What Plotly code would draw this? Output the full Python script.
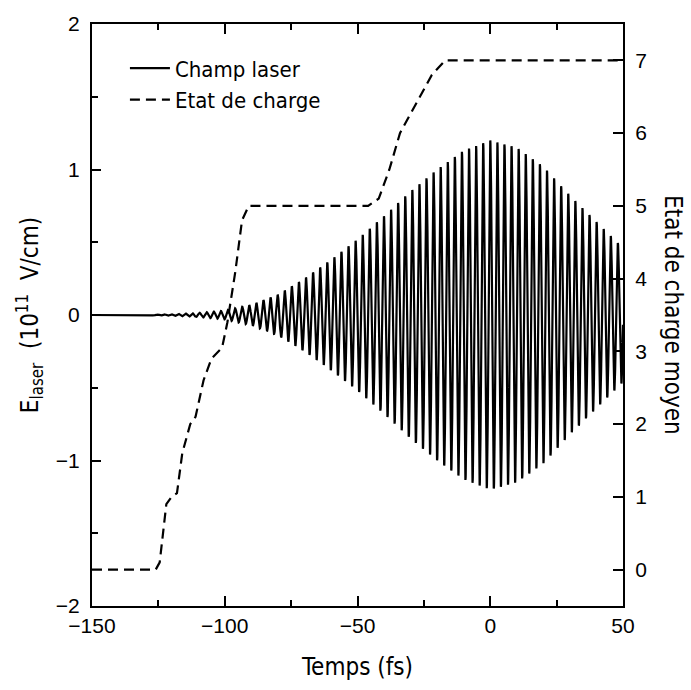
import numpy as np
import plotly.graph_objects as go

# ---- data ----
# Laser field: envelope amplitude (10^11 V/cm) at sample times (fs), carrier period (fs)
env_t = [-150, -130, -120, -110, -100, -90, -80, -70, -60, -50, -40, -30, -20, -10, 0, 10, 20, 30, 40, 50]
env_amp = [0.0, 0.002, 0.006, 0.014, 0.03, 0.07, 0.14, 0.25, 0.38, 0.52, 0.68, 0.85, 1.0, 1.13, 1.2, 1.15, 1.02, 0.82, 0.64, 0.46]
carrier_period = 2.67

# Mean charge state vs time
charge_t = [-150, -126, -124.5, -122, -120, -118, -116, -113, -111, -108, -105, -101, -99, -96, -93.5, -91, -46, -42, -38, -34, -28, -22, -17, 50]
charge_v = [0, 0, 0.1, 0.9, 1.0, 1.05, 1.6, 2.0, 2.1, 2.6, 2.9, 3.05, 3.4, 4.1, 4.8, 5.0, 5.0, 5.1, 5.5, 6.0, 6.4, 6.8, 7.0, 7.0]

x_ticks = [-150, -100, -50, 0, 50]
y_ticks = [-2, -1, 0, 1, 2]
y2_ticks = [0, 1, 2, 3, 4, 5, 6, 7]

t = np.arange(-150, 50.0001, 0.04)
field = np.interp(t, env_t, env_amp) * np.cos(2 * np.pi * t / carrier_period)

TICKFONT = dict(family="Arial, Liberation Sans, Helvetica, sans-serif", size=21, color="black")
NARROW = "Liberation Sans Narrow, DejaVu Sans Condensed, Arial Narrow, sans-serif"
TITLEFONT = dict(family=NARROW, size=24, color="black")
LEGENDFONT = dict(family=NARROW, size=22, color="black")

fig = go.Figure()
fig.add_trace(go.Scatter(x=t, y=field, mode="lines", name="Champ laser",
                         line=dict(color="black", width=2.2), yaxis="y"))
fig.add_trace(go.Scatter(x=charge_t, y=charge_v, mode="lines", name="Etat de charge",
                         line=dict(color="black", width=2.2, dash="10px,6px"), yaxis="y2"))

fig.update_layout(
    width=691, height=690,
    margin=dict(l=92, r=68, t=14, b=84),
    plot_bgcolor="white", paper_bgcolor="white",
    showlegend=True,
    legend=dict(x=0.062, y=0.96, xanchor="left", yanchor="top",
                bgcolor="rgba(0,0,0,0)", font=LEGENDFONT, tracegroupgap=0,
                itemwidth=40),
    xaxis=dict(range=[-150, 50], tickvals=x_ticks, ticks="inside", ticklen=10, tickwidth=1.5,
               tickcolor="black", showline=True, linecolor="black", linewidth=2, mirror="ticks",
               showgrid=False, zeroline=False, tickfont=TICKFONT,
               minor=dict(dtick=25, ticks="inside", ticklen=6, tickwidth=1.5, tickcolor="black", showgrid=False),
               title=dict(text="Temps (fs)", font=TITLEFONT, standoff=22)),
    yaxis=dict(range=[-2, 2], tickvals=y_ticks, ticks="inside", ticklen=9, tickwidth=1.5,
               tickcolor="black", showline=True, linecolor="black", linewidth=2,
               showgrid=False, zeroline=False, tickfont=TICKFONT, ticklabelstandoff=6,
               minor=dict(dtick=0.5, ticks="inside", ticklen=6, tickwidth=1.5, tickcolor="black", showgrid=False),
               title=dict(text="E<sub>laser</sub>  (10<sup>11</sup>  V/cm)", font=TITLEFONT, standoff=10)),
    yaxis2=dict(range=[-0.5, 7.5], tickvals=y2_ticks, overlaying="y", side="right",
                ticks="inside", ticklen=10, tickwidth=1.5, tickcolor="black",
                showline=True, linecolor="black", linewidth=2, showgrid=False, zeroline=False,
                tickfont=TICKFONT, ticklabelstandoff=6),
)

fig.add_annotation(text="Etat de charge moyen", textangle=90, font=TITLEFONT,
                   xref="paper", yref="paper", x=1.094, y=0.5, showarrow=False,
                   xanchor="center", yanchor="middle")

fig.write_html("out.html")
